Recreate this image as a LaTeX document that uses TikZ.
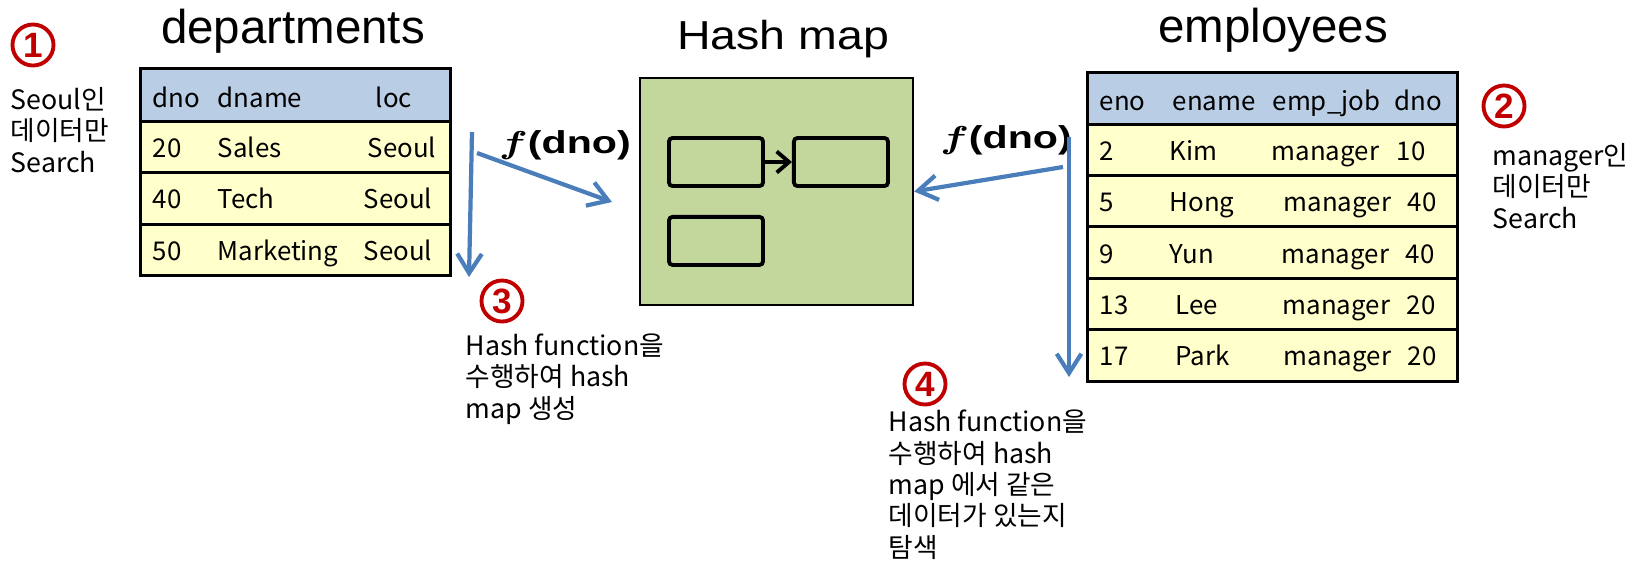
\documentclass[tikz,border=0pt]{standalone}
\usepackage{fontspec}
\usepackage{amsmath}
\setmainfont{Noto Sans CJK KR}
\newfontfamily\titlefont{Liberation Sans}
\usetikzlibrary{positioning, arrows.meta}
\definecolor{hdrblue}{HTML}{B9CDE5}
\definecolor{rowyellow}{HTML}{FFFFCC}
\definecolor{mapgreen}{HTML}{C3D69B}
\definecolor{flowblue}{HTML}{4A7EBB}
\definecolor{stepred}{HTML}{C00000}
\tikzstyle{heading} = [font=\titlefont\fontsize{13.5}{16}\selectfont, anchor=base, inner sep=0pt]
\tikzstyle{hdr} = [rectangle, draw=black, line width=0.85pt, fill=hdrblue, outer sep=0pt, inner sep=0pt]
\tikzstyle{datarow} = [rectangle, draw=black, line width=0.85pt, fill=rowyellow, outer sep=0pt, inner sep=0pt]
\tikzstyle{celltxt} = [font=\fontsize{7.35}{9}\selectfont, inner sep=0pt, anchor=base west]
\tikzstyle{notetxt} = [font=\fontsize{7.6}{8.9}\selectfont, align=left, inner sep=0pt, anchor=base west]
\tikzstyle{stepno} = [circle, draw=stepred, line width=1.1pt, minimum size=0.41cm, inner sep=0pt, text=stepred, font=\titlefont\bfseries\fontsize{10}{10}\selectfont]
\tikzstyle{flow} = [line width=1.2pt, draw=flowblue, -{Straight Barb[length=5.5pt,width=7pt]}]
\tikzstyle{hashmap} = [rectangle, draw=black, line width=0.6pt, fill=mapgreen, minimum width=2.73cm, minimum height=2.27cm]
\tikzstyle{bucket} = [rectangle, draw=black, line width=1.1pt, rounded corners=1pt, minimum width=0.94cm, minimum height=0.48cm]
\tikzstyle{link} = [line width=1.1pt, -{Straight Barb[length=3.5pt,width=6pt]}]
\tikzstyle{fdno} = [inner sep=0pt, font=\titlefont\bfseries\fontsize{9}{9}\selectfont]

\begin{document}
\begin{tikzpicture}[x=0.01cm, y=-0.01cm]
    \useasboundingbox (0,0) rectangle (1634,563);

    % titles
    \node (tdept) [heading] at (293,43) {departments};
    \node (tmap) [heading] at (783,49) {\scalebox{1.15}[1]{\fontsize{11.5}{14}\selectfont Hash map}};
    \node (temp) [heading] at (1273,42) {employees};

    % departments table
    \node (dhead) [hdr, minimum width=3.09cm, minimum height=0.52cm] at (295.5,95) {};
    \node (drow1) [datarow, minimum width=3.09cm, minimum height=0.515cm, below=0pt of dhead] {};
    \node (drow2) [datarow, minimum width=3.09cm, minimum height=0.515cm, below=0pt of drow1] {};
    \node (drow3) [datarow, minimum width=3.09cm, minimum height=0.515cm, below=0pt of drow2] {};
    \node (dh1) [celltxt] at (152,107) {dno};
    \node (dh2) [celltxt] at (217,107) {dname};
    \node (dh3) [celltxt] at (375,107) {loc};
    \foreach \yb/\no/\nm/\lx [count=\i] in {157/20/Sales/437, 208/40/Tech/433, 260/50/Marketing/433} {
        \node (dno\i) [celltxt] at (152,\yb) {\no};
        \node (dname\i) [celltxt] at (217,\yb) {\nm};
        \node (loc\i) [celltxt, anchor=base east] at (\lx,\yb) {Seoul};
    }

    % employees table
    \node (ehead) [hdr, minimum width=3.69cm, minimum height=0.51cm] at (1272.5,98.5) {};
    \node (erow1) [datarow, minimum width=3.69cm, minimum height=0.514cm, below=0pt of ehead] {};
    \node (erow2) [datarow, minimum width=3.69cm, minimum height=0.514cm, below=0pt of erow1] {};
    \node (erow3) [datarow, minimum width=3.69cm, minimum height=0.514cm, below=0pt of erow2] {};
    \node (erow4) [datarow, minimum width=3.69cm, minimum height=0.514cm, below=0pt of erow3] {};
    \node (erow5) [datarow, minimum width=3.69cm, minimum height=0.514cm, below=0pt of erow4] {};
    \node (eh1) [celltxt] at (1099,110) {eno};
    \node (eh2) [celltxt] at (1172,110) {ename};
    \node (eh3) [celltxt] at (1272,110) {emp\_job};
    \node (eh4) [celltxt] at (1394,110) {dno};
    \foreach \yb/\no/\nm/\nx/\jx/\dn/\dx [count=\i] in {160/2/Kim/1169/1271/10/1396, 211.5/5/Hong/1169/1283/40/1407, 263/9/Yun/1169/1281/40/1405, 314.5/13/Lee/1175/1282/20/1406, 365.5/17/Park/1175/1283/20/1407} {
        \node (eno\i) [celltxt] at (1099,\yb) {\no};
        \node (ename\i) [celltxt] at (\nx,\yb) {\nm};
        \node (ejob\i) [celltxt] at (\jx,\yb) {manager};
        \node (edno\i) [celltxt] at (\dx,\yb) {\dn};
    }

    % hash map
    \node (map) [hashmap] at (776.5,191.5) {};
    \node (b1) [bucket] at (716,162) {};
    \node (b2) [bucket, right=0.27cm of b1] {};
    \node (b3) [bucket, below=0.27cm of b1] {};
    \draw [link] (b1) -- (b2);

    % step numbers and notes (base = last line)
    \node (s1) [stepno] at (33,45) {1};
    \node (n1) [notetxt] at (10,172) {Seoul인\\데이터만\\Search};
    \node (s2) [stepno] at (1504,106) {2};
    \node (n2) [notetxt] at (1492,228) {manager인\\데이터만\\Search};
    \node (s3) [stepno] at (502,301) {3};
    \node (n3) [notetxt] at (465,418) {Hash function을\\수행하여 hash\\map 생성};
    \node (s4) [stepno] at (925,384) {4};
    \node (n4) [notetxt] at (888,557) {Hash function을\\수행하여 hash\\map 에서 같은\\데이터가 있는지\\탐색};

    % hash function arrows
    \node (fleft) [fdno] at (565,145) {\scalebox{1.3}[1]{$\boldsymbol{f}$(dno)}};
    \node (fright) [fdno] at (1006,140) {\scalebox{1.3}[1]{$\boldsymbol{f}$(dno)}};
    \coordinate (dscan) at (472,132);
    \coordinate (dend) at (469,277);
    \coordinate (dfrom) at (477,153);
    \coordinate (dto) at (612,202);
    \coordinate (escan) at (1069,137);
    \coordinate (eend) at (1069,377);
    \coordinate (efrom) at (1063,167);
    \draw [flow] (dscan) -- (dend);
    \draw [flow] (dfrom) -- (dto);
    \draw [flow] (escan) -- (eend);
    \draw [flow] (efrom) -- (map.east);
\end{tikzpicture}
\end{document}
